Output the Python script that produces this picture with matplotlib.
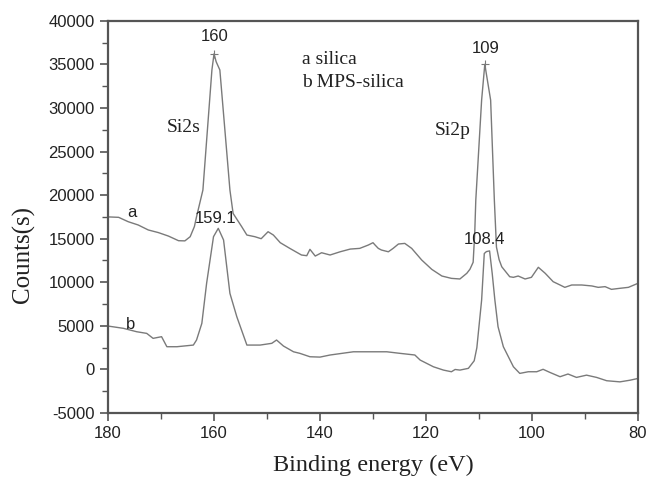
import matplotlib
matplotlib.use("Agg")
import matplotlib.pyplot as plt
from matplotlib.ticker import MultipleLocator

plt.rcParams["axes.unicode_minus"] = False

# ---- data ----
energy_a = [180, 178, 176.2, 174.3, 172.4, 170.5, 168.6, 166.7, 165.5, 164.5, 163.7, 163.3,
            162.1, 160.4, 160.0, 159.6, 158.9, 157.0, 156.4, 154.8, 153.8, 152.3, 151.1,
            149.8, 148.8, 147.5, 145.7, 143.5, 142.5, 141.9, 140.9, 139.7, 138.1, 136.2,
            134.3, 132.5, 130.9, 130.0, 129.6, 129.0, 128.4, 127.1, 126.2, 125.2, 124.0,
            122.7, 120.8, 118.9, 117.0, 115.2, 113.6, 112.3, 111.7, 111.1, 110.8, 110.6,
            109.5, 108.9, 107.8, 107.1, 106.7, 106.2, 105.7, 104.2, 103.5, 102.6, 101.3,
            100.1, 98.8, 97.5, 96.0, 94.7, 93.8, 92.5, 90.6, 88.7, 87.5, 86.2, 85.0, 83.4,
            81.8, 80.0]
counts_a = [17500, 17450, 16950, 16570, 16000, 15700, 15300, 14770, 14750, 15230, 16400, 17520,
            20580, 34350, 36200, 35300, 34350, 20580, 17900, 16400, 15420, 15230, 15000,
            15800, 15420, 14540, 13890, 13130, 13050, 13780, 13010, 13390, 13130, 13500,
            13810, 13890, 14270, 14540, 14270, 13890, 13700, 13500, 13890, 14390, 14460,
            13890, 12550, 11480, 10720, 10450, 10380, 11030, 11500, 12300, 15650, 19430,
            30900, 35000, 30900, 19430, 14040, 12600, 11780, 10640, 10570, 10720, 10380,
            10570, 11720, 11030, 10070, 9690, 9420, 9690, 9690, 9580, 9420, 9500, 9190, 9310,
            9420, 9880]

energy_b = [180, 177.1, 174.6, 172.7, 171.5, 169.9, 168.9, 167.0, 163.9, 163.3, 162.3, 161.4,
            160.1, 159.2, 158.2, 157.0, 155.7, 153.8, 151.3, 149.1, 148.2, 146.9, 145.0,
            143.8, 141.9, 140.0, 138.1, 133.7, 130.6, 127.4, 124.9, 122.1, 121.1, 118.6,
            116.7, 115.2, 114.5, 113.6, 112.0, 110.9, 110.4, 109.5, 109.0, 108.6, 108.0,
            107.5, 107.0, 106.4, 105.4, 103.5, 102.3, 100.7, 99.1, 97.9, 96.6, 94.7, 93.2,
            91.6, 89.7, 87.8, 85.9, 83.4, 81.5, 80.0]
counts_b = [4980, 4720, 4330, 4140, 3570, 3760, 2610, 2610, 2800, 3380, 5290, 9880,
            15230, 16190, 14850, 8730, 6050, 2800, 2800, 3000, 3380, 2690, 2030,
            1850, 1460, 1420, 1660, 2030, 2030, 2030, 1850, 1660, 1080, 310,
            -70, -260, 0, -70, 130, 1000, 2500, 7960, 13300, 13520, 13600,
            11000, 7960, 4900, 2610, 310, -450, -260, -260, 20, -340, -830, -520,
            -910, -650, -910, -1290, -1420, -1230, -1030]

peak_a_x = [160.0, 108.9]
peak_a_y = [36200, 35000]

x_ticks = [180, 160, 140, 120, 100, 80]
y_ticks = [-5000, 0, 5000, 10000, 15000, 20000, 25000, 30000, 35000, 40000]

# ---- figure ----
fig = plt.figure(figsize=(6.47, 4.82), dpi=100)
ax = fig.add_axes([0.167, 0.143, 0.819, 0.814])

line_col = "#7a7a7a"
ax.plot(energy_a, counts_a, color=line_col, lw=1.0)
ax.plot(energy_b, counts_b, color=line_col, lw=1.0)
ax.plot(peak_a_x, peak_a_y, linestyle="none", marker="+", color=line_col, ms=6, mew=0.8)

ax.set_xlim(180, 80)
ax.set_ylim(-5000, 40000)
ax.set_xticks(x_ticks)
ax.set_yticks(y_ticks)
ax.xaxis.set_minor_locator(MultipleLocator(10))
ax.yaxis.set_minor_locator(MultipleLocator(2500))

spine_col = "#555555"
for s in ax.spines.values():
    s.set_color(spine_col)
    s.set_linewidth(1.6)
ax.tick_params(which="major", direction="out", length=6, width=1.2, color=spine_col,
               labelsize=12, labelcolor="#222222")
ax.tick_params(which="minor", direction="out", length=4, width=1.0, color=spine_col)
for lab in ax.get_xticklabels() + ax.get_yticklabels():
    lab.set_family("Liberation Sans")

serif = "Liberation Serif"
sans = "Liberation Sans"
ax.set_xlabel("Binding energy (eV)", family=serif, fontsize=17.5, color="#222222", labelpad=10)
ax.set_ylabel("Counts(s)", family=serif, fontsize=18, color="#222222")
ax.yaxis.set_label_coords(-0.138, 0.403)

tc = "#222222"
ax.text(159.8, 38160, "160", family=sans, fontsize=12, ha="center", va="center", color=tc)
ax.text(108.7, 36830, "109", family=sans, fontsize=12, ha="center", va="center", color=tc)
ax.text(159.8, 17330, "159.1", family=sans, fontsize=12, ha="center", va="center", color=tc)
ax.text(108.9, 14960, "108.4", family=sans, fontsize=12, ha="center", va="center", color=tc)
ax.text(165.8, 27800, "Si2s", family=serif, fontsize=14, ha="center", va="center", color=tc)
ax.text(114.9, 27460, "Si2p", family=serif, fontsize=14, ha="center", va="center", color=tc)
ax.text(143.4, 35600, "a silica", family=serif, fontsize=14, ha="left", va="center", color=tc)
ax.text(143.4, 32900, "b MPS-silica", family=serif, fontsize=14, ha="left", va="center", color=tc)
ax.text(175.5, 17950, "a", family=sans, fontsize=12, ha="center", va="center", color=tc)
ax.text(175.7, 5210, "b", family=sans, fontsize=12, ha="center", va="center", color=tc)

fig.savefig("out.png", dpi=100)
